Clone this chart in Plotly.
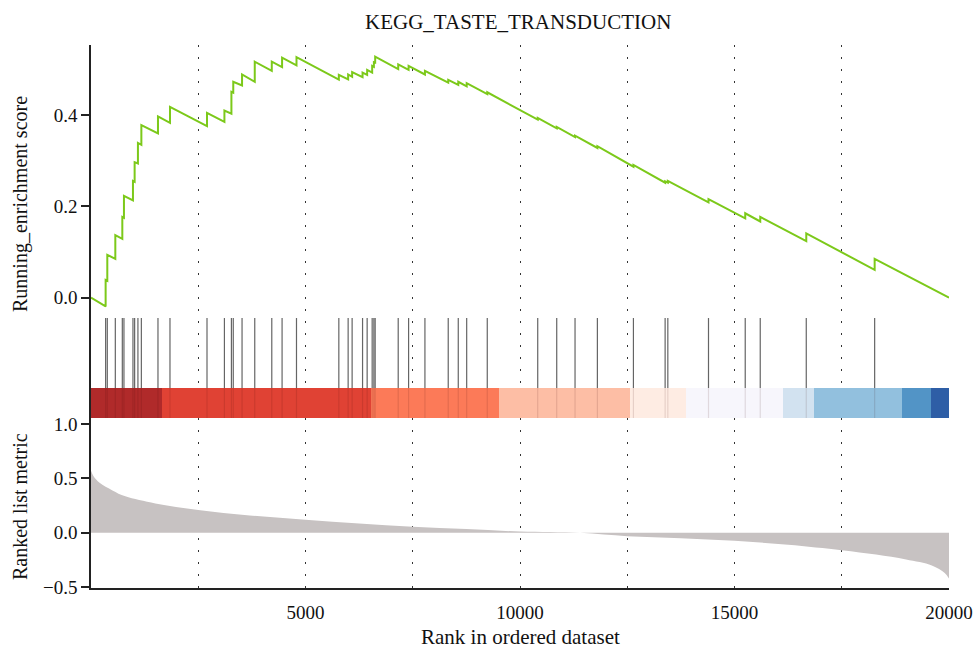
import plotly.graph_objects as go

# ---------------- data ----------------
title_text = "KEGG_TASTE_TRANSDUCTION"

hit_ranks = [341, 380, 567, 730, 768, 978, 1017, 1094, 1174, 1561,
             1841, 2704, 3110, 3273, 3316, 3521, 3817, 4214, 4454, 4790,
             5777, 5994, 6087, 6330, 6437, 6554, 6594, 6624, 7161, 7403,
             7784, 8327, 8561, 8757, 9237, 10413, 10856, 11283, 11804, 12644,
             13383, 13446, 14394, 15250, 15600, 16673, 18267]
es_before = [-0.019, 0.037, 0.085, 0.129, 0.175, 0.213, 0.254, 0.294, 0.335, 0.360,
             0.383, 0.376, 0.385, 0.403, 0.449, 0.465, 0.473, 0.497, 0.505, 0.509,
             0.478, 0.478, 0.484, 0.483, 0.488, 0.493, 0.506, 0.515, 0.501, 0.499,
             0.489, 0.471, 0.466, 0.463, 0.446, 0.390, 0.371, 0.352, 0.328, 0.287,
             0.252, 0.252, 0.209, 0.174, 0.167, 0.124, 0.061]
es_after = [0.039, 0.094, 0.137, 0.177, 0.223, 0.256, 0.297, 0.339, 0.378, 0.397,
            0.418, 0.405, 0.410, 0.451, 0.473, 0.489, 0.517, 0.517, 0.526, 0.527,
            0.488, 0.489, 0.494, 0.493, 0.499, 0.508, 0.516, 0.528, 0.511, 0.508,
            0.497, 0.477, 0.473, 0.470, 0.450, 0.394, 0.374, 0.355, 0.332, 0.291,
            0.255, 0.256, 0.216, 0.185, 0.177, 0.141, 0.085]
n_genes = 20000

metric_rank = [0, 60, 200, 500, 800, 1500, 2500, 3700, 5000, 6250, 7500, 8750,
               10000, 11400, 12500, 13750, 15000, 16250, 17500, 18300, 19000,
               19600, 19900, 20000]
metric_value = [0.57, 0.52, 0.46, 0.39, 0.335, 0.27, 0.21, 0.16, 0.12, 0.086,
                0.056, 0.034, 0.012, 0.0, -0.031, -0.05, -0.074, -0.11, -0.16,
                -0.2, -0.245, -0.3, -0.37, -0.42]

band_edges = [0, 1664, 6517, 9510, 12566, 13866, 16136, 16860, 18906, 19590, 20000]
band_colors = ["#B02A2A", "#E04234", "#FC7A58", "#FDBEA5", "#FEECE3",
               "#F7F6FC", "#D2E2F0", "#92C0DE", "#5294C6", "#2E5EA6"]

x_ticks = [5000, 10000, 15000, 20000]
es_ticks = [0.0, 0.2, 0.4]
metric_ticks = [-0.5, 0.0, 0.5, 1.0]

# ---------------- geometry ----------------
W, H = 979, 652
ML, MR, MT, MB = 91, 30, 45, 64
ph = H - MT - MB
split = 170 / ph                     # boundary between panels (px 418)
es_lo, es_hi = -0.2635, 0.5536       # top panel range
hit_top, band_top, band_bot = -0.0445, -0.1978, -0.2635

serif = "Liberation Serif"

fig = go.Figure()

# running ES path
xs, ys = [0], [0.0]
for r, b, a in zip(hit_ranks, es_before, es_after):
    xs += [r, r]
    ys += [b, a]
xs.append(n_genes)
ys.append(0.0)

# colour band
mids = [(band_edges[i] + band_edges[i + 1]) / 2 for i in range(len(band_colors))]
widths = [band_edges[i + 1] - band_edges[i] for i in range(len(band_colors))]
fig.add_trace(go.Bar(x=mids, y=[band_top - band_bot] * len(mids), base=band_bot,
                     width=widths, marker=dict(color=band_colors, line=dict(width=0)),
                     xaxis="x2", yaxis="y", showlegend=False, hoverinfo="skip"))

# hit lines
hx, hy, bx, by = [], [], [], []
for r in hit_ranks:
    hx += [r, r, None]
    hy += [hit_top, band_top, None]
    bx += [r, r, None]
    by += [band_top, band_bot, None]
fig.add_trace(go.Scatter(x=hx, y=hy, mode="lines", line=dict(color="rgba(50,50,50,0.75)", width=1.2),
                         xaxis="x2", yaxis="y", showlegend=False, hoverinfo="skip"))
fig.add_trace(go.Scatter(x=bx, y=by, mode="lines", line=dict(color="rgba(60,0,0,0.12)", width=1.2),
                         xaxis="x2", yaxis="y", showlegend=False, hoverinfo="skip"))

fig.add_trace(go.Scatter(x=xs, y=ys, mode="lines", line=dict(color="#7CC91A", width=2),
                         xaxis="x2", yaxis="y", showlegend=False))

# ranked list metric
fig.add_trace(go.Scatter(x=metric_rank, y=metric_value, mode="lines", fill="tozeroy",
                         line=dict(width=0, shape="spline"), fillcolor="#C7C2C2",
                         xaxis="x", yaxis="y2", showlegend=False))

grid = dict(showgrid=True, griddash="2px,10px", gridcolor="#333", gridwidth=1)
minor = dict(dtick=2500, tick0=0, showgrid=True, griddash="2px,10px", gridcolor="#333", gridwidth=1)
tickfont = dict(family=serif, size=19, color="#111")

fig.update_layout(
    width=W, height=H, autosize=False, plot_bgcolor="white", paper_bgcolor="white",
    margin=dict(l=ML, r=MR, t=MT, b=MB, autoexpand=False), bargap=0, showlegend=False,
    xaxis=dict(domain=[0, 1], anchor="y2", range=[0, n_genes], tickvals=x_ticks,
               ticktext=[str(v) for v in x_ticks], tickfont=tickfont, automargin=False,
               ticks="outside", ticklen=6, tickcolor="rgba(0,0,0,0)",
               showline=True, linecolor="#222", linewidth=1.5, zeroline=False,
               minor=minor, **grid),
    xaxis2=dict(domain=[0, 1], anchor="y", matches="x", range=[0, n_genes], automargin=False,
                tickvals=x_ticks, showticklabels=False, ticks="", showline=False,
                zeroline=False, minor=minor, **grid),
    yaxis=dict(domain=[split, 1], anchor="x2", range=[es_lo, es_hi], tickvals=es_ticks,
               ticktext=["%.1f" % v for v in es_ticks], tickfont=tickfont, automargin=False,
               ticks="outside", ticklen=8, tickwidth=1.5, tickcolor="#222",
               showline=True, linecolor="#222", linewidth=1.5, showgrid=False, zeroline=False),
    yaxis2=dict(domain=[0, split], anchor="x", range=[-0.507, 1.055], tickvals=metric_ticks,
                ticktext=["−0.5", "0.0", "0.5", "1.0"], tickfont=tickfont, automargin=False,
                ticks="outside", ticklen=8, tickwidth=1.5, tickcolor="#222",
                showline=True, linecolor="#222", linewidth=1.5, showgrid=False, zeroline=False),
    annotations=[
        dict(text=title_text, xref="paper", yref="paper", x=(518 - ML) / (W - ML - MR),
             y=1 + (MT - 22) / ph, xanchor="center", yanchor="middle", showarrow=False,
             font=dict(family=serif, size=21, color="#111")),
        dict(text="Rank in ordered dataset", xref="paper", yref="paper", x=0.5,
             y=(H - MB - 637) / ph, xanchor="center", yanchor="middle", showarrow=False,
             font=dict(family=serif, size=21, color="#111")),
        dict(text="Running_enrichment score", xref="paper", yref="paper",
             x=(20 - ML) / (W - ML - MR), y=(H - MB - 204) / ph, textangle=-90,
             xanchor="center", yanchor="middle", showarrow=False,
             font=dict(family=serif, size=20, color="#111")),
        dict(text="Ranked list metric", xref="paper", yref="paper",
             x=(20 - ML) / (W - ML - MR), y=(H - MB - 507) / ph, textangle=-90,
             xanchor="center", yanchor="middle", showarrow=False,
             font=dict(family=serif, size=20, color="#111")),
    ],
)

fig.write_html("out.html", config={"displayModeBar": False, "responsive": False},
               post_script="document.body.style.margin='0';document.body.style.overflow='hidden';")
